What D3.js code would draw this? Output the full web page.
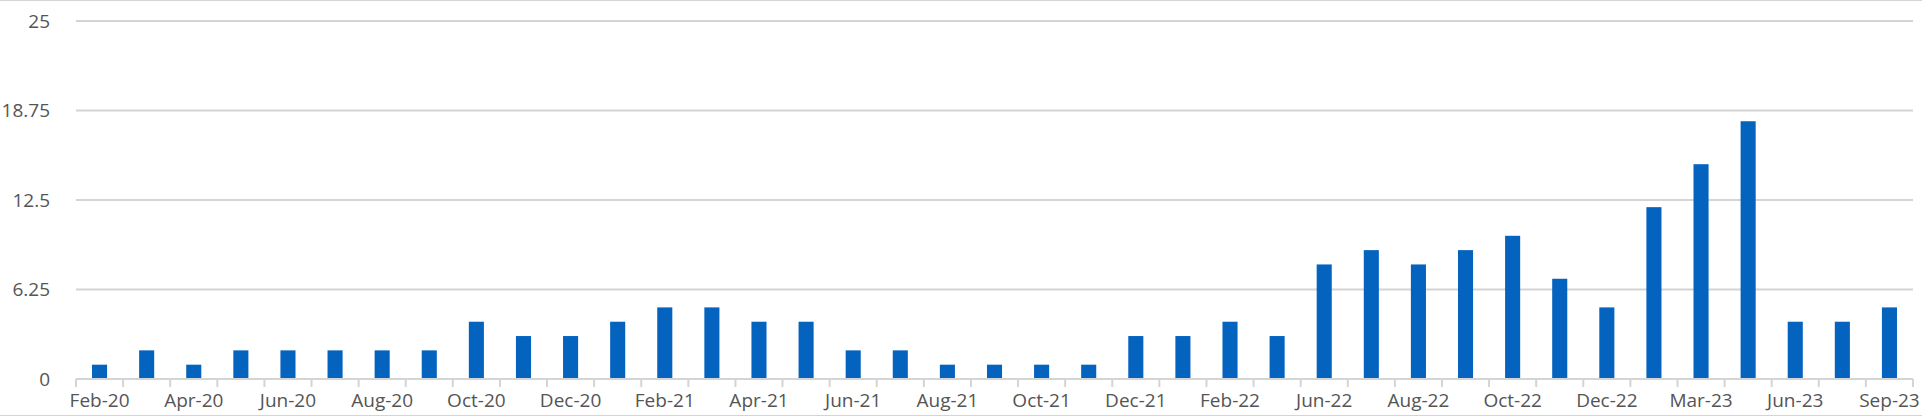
<!DOCTYPE html>
<html>
<head>
<meta charset="utf-8">
<script src="https://cdn.jsdelivr.net/npm/d3@7"></script>
<style>
  html, body { margin: 0; padding: 0; background: #fff; }
  svg { display: block; }
</style>
</head>
<body>
<svg id="chart" width="1922" height="416"></svg>
<script>
const categories = [
  "Feb-20","Mar-20","Apr-20","May-20","Jun-20","Jul-20","Aug-20","Sep-20","Oct-20","Nov-20",
  "Dec-20","Jan-21","Feb-21","Mar-21","Apr-21","May-21","Jun-21","Jul-21","Aug-21","Sep-21",
  "Oct-21","Nov-21","Dec-21","Jan-22","Feb-22","Apr-22","Jun-22","Jul-22","Aug-22","Sep-22",
  "Oct-22","Nov-22","Dec-22","Feb-23","Mar-23","May-23","Jun-23","Aug-23","Sep-23"
];
const values = [
  1,2,1,2,2,2,2,2,4,3,
  3,4,5,5,4,4,2,2,1,1,
  1,1,3,3,4,3,8,9,8,9,
  10,7,5,12,15,18,4,4,5
];
const yTicks = [0, 6.25, 12.5, 18.75, 25];
const xTickLabels = ["Feb-20","Apr-20","Jun-20","Aug-20","Oct-20","Dec-20","Feb-21","Apr-21","Jun-21","Aug-21",
  "Oct-21","Dec-21","Feb-22","Jun-22","Aug-22","Oct-22","Dec-22","Mar-23","Jun-23","Sep-23"];

const svg = d3.select("#chart");
const W = 1922, H = 416;
const plotLeft = 76, plotRight = 1913, plotTop = 21, plotBottom = 379;
const gridColor = "#d4d4d4";
const textColor = "#555555";
const font = "'Open Sans', sans-serif";

// chart border lines (top/bottom)
svg.append("line").attr("x1", 0).attr("x2", W).attr("y1", 0.5).attr("y2", 0.5)
  .attr("stroke", gridColor).attr("stroke-width", 1);
svg.append("line").attr("x1", 0).attr("x2", W).attr("y1", H - 0.5).attr("y2", H - 0.5)
  .attr("stroke", gridColor).attr("stroke-width", 1);

const x = d3.scaleBand().domain(categories).range([plotLeft, plotRight]).padding(0);
const y = d3.scaleLinear().domain([0, 25]).range([plotBottom, plotTop]);

// gridlines
svg.append("g").selectAll("line").data(yTicks.filter(d => d > 0)).join("line")
  .attr("x1", plotLeft).attr("x2", plotRight)
  .attr("y1", d => y(d)).attr("y2", d => y(d))
  .attr("stroke", gridColor).attr("stroke-width", 2);

// y axis labels
const yAxis = d3.axisLeft(y).tickValues(yTicks).tickSize(0).tickPadding(26)
  .tickFormat(d => String(d));
const gy = svg.append("g").attr("transform", `translate(${plotLeft},0)`).call(yAxis);
gy.select(".domain").remove();
gy.selectAll("text").attr("fill", textColor).style("font-family", font).style("font-size", "19px");

// bars
const barW = x.bandwidth() * 0.32;
svg.append("g").selectAll("rect").data(values).join("rect")
  .attr("x", (d, i) => x(categories[i]) + (x.bandwidth() - barW) / 2)
  .attr("width", barW)
  .attr("y", d => y(d))
  .attr("height", d => y(0) - y(d))
  .attr("fill", "#0563c0");

// x axis line + boundary ticks
svg.append("line").attr("x1", plotLeft).attr("x2", plotRight).attr("y1", plotBottom).attr("y2", plotBottom)
  .attr("stroke", gridColor).attr("stroke-width", 2);
const boundaries = categories.map(c => x(c)).concat([plotRight]);
svg.append("g").selectAll("line").data(boundaries).join("line")
  .attr("x1", d => d).attr("x2", d => d)
  .attr("y1", plotBottom).attr("y2", plotBottom + 8)
  .attr("stroke", gridColor).attr("stroke-width", 2);

// x labels
const xAxis = d3.axisBottom(x).tickValues(xTickLabels).tickSize(0).tickPadding(15);
const gx = svg.append("g").attr("transform", `translate(0,${plotBottom})`).call(xAxis);
gx.select(".domain").remove();
gx.selectAll("text").attr("fill", textColor).style("font-family", font).style("font-size", "19px");
</script>
</body>
</html>
